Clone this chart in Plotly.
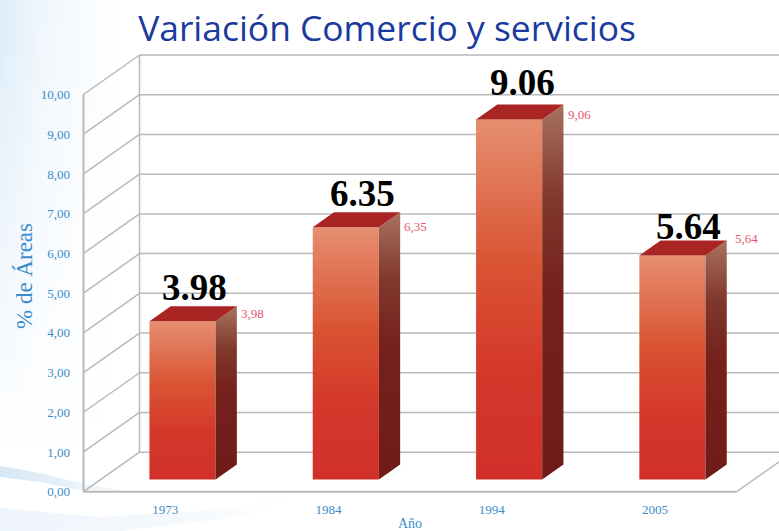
import plotly.graph_objects as go

# ---- data ----
YEARS = ["1973", "1984", "1994", "2005"]
VALUES = [3.98, 6.35, 9.06, 5.64]
Y_TICKS = [0, 1, 2, 3, 4, 5, 6, 7, 8, 9, 10]
TITLE = "Variación Comercio y servicios"
X_TITLE = "Año"
Y_TITLE = "% de Áreas"

# ---- layout of the fake 3D box ----
W, H = 779, 531
LEFT, RIGHT, TOP, BOTTOM = 83.5, 736.7, 94.5, 491.7
X_UNIT = (RIGHT - LEFT) / 4
Y_UNIT = (BOTTOM - TOP) / 10
DX = 56 / X_UNIT
DY = 39.5 / Y_UNIT
BAR_W = 0.405
BAR_FRONT, BAR_BACK = 0.31, 0.69
X0, X1 = -0.5, 3.5
XMIN, XMAX = X0 - LEFT / X_UNIT, X1 + (W - RIGHT) / X_UNIT
YMIN, YMAX = -(H - BOTTOM) / Y_UNIT, 10 + TOP / Y_UNIT
BLUE = "#3a8ccb"
GRID = "#b9b9b9"
# label offsets in pixels, bar by bar, as placed by hand in the original
BIG_SHIFT_X = [1, 6, 3, 5]
BIG_SHIFT_Y = [4, 4, 7, -1]
SMALL_SHIFT_X = [2, 2, 3, 6]
SMALL_SHIFT_Y = [-7, -14, -10, 2]


def pt(x, v, d=0.0):
    return x + DX * d, v + DY * d


def bg(px, py):
    """Window position of a background decoration, as axis values."""
    return XMIN + px / X_UNIT, YMAX - py / Y_UNIT


fig = go.Figure()


def poly(points, **kw):
    xs = [p[0] for p in points] + [points[0][0]]
    ys = [p[1] for p in points] + [points[0][1]]
    fig.add_trace(go.Scatter(x=xs, y=ys, mode="lines", line=dict(width=0), fill="toself",
                             hoverinfo="skip", showlegend=False, **kw))


def line(points, color=GRID, width=1.5):
    fig.add_trace(go.Scatter(x=[p[0] for p in points], y=[p[1] for p in points], mode="lines",
                             line=dict(color=color, width=width), hoverinfo="skip", showlegend=False))


# soft page background: pale blue glow on the left, swooshes at the bottom
for k in range(16):
    a = 0.62 * (1 - k / 16)
    poly([bg(0, 28 * k), bg(120, 28 * k), bg(120, 28 * k + 28), bg(0, 28 * k + 28)],
         fillgradient=dict(type="horizontal", colorscale=[
             [0, f"rgba(200,225,245,{a:.3f})"], [0.35, f"rgba(200,225,245,{a * 0.45:.3f})"],
             [1, "rgba(200,225,245,0)"]]))
poly([bg(0, 466), bg(40, 473), bg(80, 483), bg(135, 492), bg(80, 490), bg(40, 482), bg(0, 477)],
     fillgradient=dict(type="horizontal", colorscale=[[0, "#d6e7f5"], [0.5, "#e6f1f9"], [1, "#ffffff"]]))
poly([bg(0, 508), bg(100, 517), bg(200, 511), bg(300, 497), bg(240, 517), bg(120, 531), bg(0, 531)],
     fillgradient=dict(type="horizontal", colorscale=[[0, "#eef5fb"], [0.6, "#f5f9fd"], [1, "#ffffff"]]))

# axis lines, back wall and side wall
for v in Y_TICKS:
    line([pt(X0, v, 1), pt(X1, v, 1)])
    line([pt(X0, v, 0), pt(X0, v, 1)])
line([pt(X0, 0, 1), pt(X0, 10, 1)])
line([pt(X1, 0, 0), pt(X1, 0, 1)])
line([pt(X0, 0), pt(X0, 10)], width=2)
line([pt(X0, 0), pt(X1, 0)], width=2)

# bars
FRONT_SCALE = [[0, "#d0302a"], [0.3, "#d4382a"], [0.6, "#d95433"], [1, "#e68e70"]]
SIDE_SCALE = [[0, "#6f1c19"], [0.5, "#75201c"], [0.75, "#80382c"], [1, "#a87260"]]
for i, v in enumerate(VALUES):
    a, b = i - BAR_W / 2, i + BAR_W / 2
    poly([pt(a, 0, BAR_FRONT), pt(b, 0, BAR_FRONT), pt(b, v, BAR_FRONT), pt(a, v, BAR_FRONT)],
         fillgradient=dict(type="vertical", colorscale=FRONT_SCALE))
    poly([pt(b, 0, BAR_FRONT), pt(b, 0, BAR_BACK), pt(b, v, BAR_BACK), pt(b, v, BAR_FRONT)],
         fillgradient=dict(type="vertical", colorscale=SIDE_SCALE))
    poly([pt(a, v, BAR_FRONT), pt(b, v, BAR_FRONT), pt(b, v, BAR_BACK), pt(a, v, BAR_BACK)],
         fillcolor="#a92523")
    # small value label beside the bar
    lx, ly = pt(b, v, BAR_BACK)
    fig.add_annotation(x=lx, y=ly, text=f"{v:.2f}".replace(".", ","),
                       showarrow=False, xanchor="left", yanchor="middle",
                       xshift=SMALL_SHIFT_X[i], yshift=SMALL_SHIFT_Y[i],
                       font=dict(family="Liberation Serif", size=13, color="#e8566a"))
    # big value label over the bar
    cx, cy = pt(i, v, 0.5)
    fig.add_annotation(x=cx, y=cy, text=f"<b>{v:.2f}</b>", showarrow=False,
                       xanchor="center", yanchor="bottom",
                       xshift=BIG_SHIFT_X[i], yshift=BIG_SHIFT_Y[i],
                       font=dict(family="Liberation Serif", size=37, color="#000000"))

fig.add_annotation(xref="paper", yref="paper", x=24 / W, y=1 - 276 / H, text=Y_TITLE,
                   textangle=-90, showarrow=False, xanchor="center", yanchor="middle",
                   font=dict(family="Liberation Serif", size=23, color=BLUE))
fig.add_annotation(x=(X0 + X1) / 2, y=0, text=X_TITLE, showarrow=False, yshift=-32,
                   font=dict(family="Liberation Serif", size=14, color=BLUE))

fig.update_layout(
    width=W, height=H, autosize=False,
    margin=dict(l=0, r=0, t=0, b=0, pad=0),
    paper_bgcolor="white", plot_bgcolor="rgba(0,0,0,0)", showlegend=False,
    title=dict(text=TITLE, x=387 / W, y=1 - 29 / H, xanchor="center", yanchor="middle",
               font=dict(family="Open Sans", size=35.4, color="#1a3a9e")),
    xaxis=dict(range=[XMIN, XMAX], anchor="free", position=1 - BOTTOM / H, automargin=False,
               tickmode="array", tickvals=list(range(len(YEARS))), ticktext=YEARS,
               showgrid=False, zeroline=False, showline=False,
               ticks="outside", ticklen=6, tickcolor="rgba(0,0,0,0)",
               tickfont=dict(family="Liberation Serif", size=13, color=BLUE)),
    yaxis=dict(range=[YMIN, YMAX], anchor="free", position=LEFT / W, automargin=False,
               tickmode="array", tickvals=Y_TICKS,
               ticktext=[f"{t:.2f}".replace(".", ",") for t in Y_TICKS],
               showgrid=False, zeroline=False, showline=False,
               ticks="outside", ticklen=11, tickcolor="rgba(0,0,0,0)",
               tickfont=dict(family="Liberation Serif", size=13, color=BLUE)),
)

fig.write_html("out.html", config=dict(displayModeBar=False),
               post_script="document.body.style.margin='0';")
